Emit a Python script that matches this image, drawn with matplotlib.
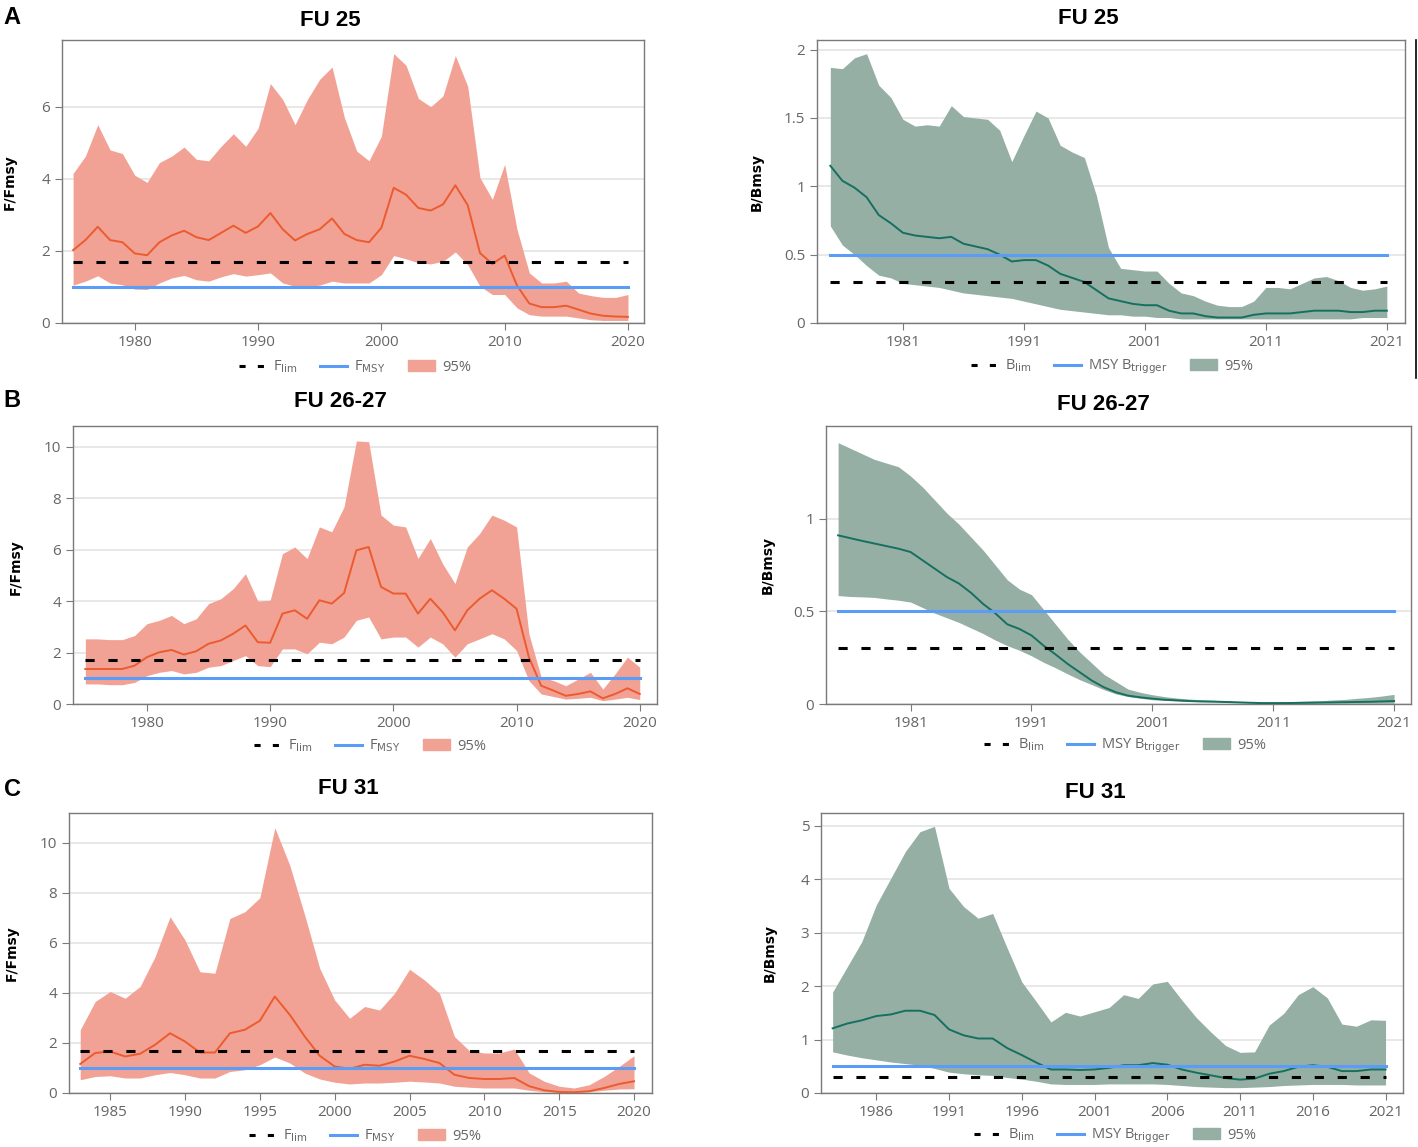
import matplotlib
matplotlib.use("Agg")
import matplotlib.pyplot as plt
from matplotlib.lines import Line2D
from matplotlib.patches import Patch

# ---- data ----
yrs_a = list(range(1975, 2021))
f25_hi = [4.15, 4.63, 5.5, 4.8, 4.7, 4.1, 3.9, 4.45, 4.63, 4.88, 4.54, 4.5, 4.9, 5.25, 4.9, 5.4,
          6.64, 6.2, 5.5, 6.2, 6.76, 7.1, 5.7, 4.77, 4.5, 5.18, 7.47, 7.15, 6.23, 6.0, 6.3, 7.42,
          6.57, 4.03, 3.43, 4.4, 2.6, 1.39, 1.11, 1.11, 1.16, 0.83, 0.76, 0.71, 0.71, 0.79]
f25_med = [2.02, 2.3, 2.67, 2.3, 2.24, 1.93, 1.88, 2.24, 2.43, 2.56, 2.38, 2.3, 2.5, 2.7, 2.5, 2.68,
           3.05, 2.6, 2.29, 2.47, 2.6, 2.9, 2.47, 2.3, 2.24, 2.64, 3.75, 3.56, 3.19, 3.12, 3.29, 3.82,
           3.27, 1.94, 1.64, 1.87, 1.04, 0.54, 0.44, 0.44, 0.48, 0.37, 0.26, 0.2, 0.18, 0.17]
f25_lo = [1.05, 1.16, 1.31, 1.11, 1.06, 0.94, 0.93, 1.11, 1.25, 1.32, 1.2, 1.16, 1.28, 1.37, 1.3, 1.34,
          1.39, 1.11, 1.02, 1.02, 1.05, 1.16, 1.11, 1.11, 1.11, 1.34, 1.87, 1.78, 1.67, 1.64, 1.71, 1.97,
          1.62, 1.02, 0.79, 0.79, 0.42, 0.23, 0.19, 0.19, 0.19, 0.14, 0.09, 0.07, 0.07, 0.07]

yrs_b = list(range(1975, 2022))
b25_hi = [1.87, 1.86, 1.94, 1.97, 1.74, 1.65, 1.49, 1.44, 1.45, 1.44, 1.59, 1.51, 1.5, 1.49, 1.41, 1.18,
          1.37, 1.55, 1.5, 1.3, 1.25, 1.21, 0.93, 0.55, 0.4, 0.39, 0.38, 0.38, 0.29, 0.22, 0.2, 0.16,
          0.13, 0.12, 0.12, 0.16, 0.26, 0.26, 0.25, 0.29, 0.33, 0.34, 0.31, 0.26, 0.24, 0.25, 0.27]
b25_med = [1.15, 1.04, 0.99, 0.92, 0.79, 0.73, 0.66, 0.64, 0.63, 0.62, 0.63, 0.58, 0.56, 0.54, 0.5, 0.45,
           0.46, 0.46, 0.42, 0.36, 0.33, 0.3, 0.24, 0.18, 0.16, 0.14, 0.13, 0.13, 0.09, 0.07, 0.07, 0.05,
           0.04, 0.04, 0.04, 0.06, 0.07, 0.07, 0.07, 0.08, 0.09, 0.09, 0.09, 0.08, 0.08, 0.09, 0.09]
b25_lo = [0.71, 0.57, 0.5, 0.42, 0.35, 0.33, 0.29, 0.28, 0.27, 0.26, 0.24, 0.22, 0.21, 0.2, 0.19, 0.18,
          0.16, 0.14, 0.12, 0.1, 0.09, 0.08, 0.07, 0.06, 0.06, 0.05, 0.05, 0.04, 0.04, 0.03, 0.03, 0.03,
          0.03, 0.03, 0.03, 0.03, 0.03, 0.03, 0.03, 0.03, 0.03, 0.03, 0.03, 0.03, 0.04, 0.04, 0.04]

f2627_hi = [2.53, 2.53, 2.5, 2.5, 2.66, 3.12, 3.25, 3.44, 3.12, 3.31, 3.9, 4.09, 4.48, 5.06, 4.0, 4.03,
            5.84, 6.1, 5.65, 6.88, 6.69, 7.66, 10.22, 10.19, 7.34, 6.95, 6.88, 5.65, 6.43, 5.45, 4.68, 6.1,
            6.62, 7.34, 7.14, 6.88, 2.73, 1.04, 0.91, 0.71, 0.97, 1.23, 0.58, 1.17, 1.82, 1.43]
f2627_med = [1.36, 1.36, 1.36, 1.36, 1.49, 1.82, 2.01, 2.1, 1.92, 2.05, 2.34, 2.47, 2.73, 3.05, 2.4, 2.38,
             3.51, 3.64, 3.31, 4.03, 3.9, 4.31, 5.97, 6.1, 4.55, 4.29, 4.29, 3.51, 4.09, 3.57, 2.86, 3.64,
             4.09, 4.42, 4.09, 3.7, 1.82, 0.71, 0.52, 0.32, 0.39, 0.49, 0.22, 0.39, 0.61, 0.39]
f2627_lo = [0.78, 0.78, 0.75, 0.75, 0.84, 1.1, 1.23, 1.3, 1.17, 1.23, 1.43, 1.49, 1.69, 1.88, 1.49, 1.45,
            2.14, 2.14, 1.95, 2.4, 2.34, 2.6, 3.25, 3.38, 2.53, 2.6, 2.6, 2.21, 2.6, 2.34, 1.82, 2.34,
            2.53, 2.73, 2.53, 2.08, 0.91, 0.39, 0.29, 0.19, 0.22, 0.26, 0.13, 0.19, 0.26, 0.17]

b2627_hi = [1.41, 1.38, 1.35, 1.32, 1.3, 1.28, 1.23, 1.17, 1.1, 1.03, 0.97, 0.9, 0.83, 0.75, 0.67, 0.62,
            0.59, 0.51, 0.43, 0.35, 0.28, 0.22, 0.16, 0.12, 0.08, 0.063, 0.05, 0.04, 0.032, 0.027, 0.023, 0.02,
            0.018, 0.014, 0.013, 0.011, 0.011, 0.013, 0.014, 0.016, 0.018, 0.022, 0.025, 0.031, 0.036, 0.043, 0.052]
b2627_med = [0.91, 0.895, 0.88, 0.866, 0.852, 0.838, 0.82, 0.775, 0.73, 0.685, 0.65, 0.6, 0.54, 0.49, 0.43, 0.405,
             0.37, 0.315, 0.267, 0.216, 0.171, 0.126, 0.09, 0.063, 0.045, 0.036, 0.029, 0.023, 0.02, 0.016, 0.014, 0.013,
             0.011, 0.009, 0.007, 0.005, 0.005, 0.005, 0.006, 0.007, 0.008, 0.009, 0.01, 0.011, 0.012, 0.014, 0.016]
b2627_lo = [0.585, 0.58, 0.578, 0.575, 0.567, 0.56, 0.55, 0.52, 0.49, 0.465, 0.44, 0.41, 0.38, 0.345, 0.315, 0.29,
            0.26, 0.225, 0.195, 0.162, 0.131, 0.104, 0.077, 0.054, 0.04, 0.031, 0.023, 0.02, 0.016, 0.014, 0.012, 0.011,
            0.009, 0.008, 0.006, 0.004, 0.003, 0.003, 0.003, 0.003, 0.004, 0.004, 0.004, 0.004, 0.004, 0.004, 0.004]

yrs_c = list(range(1983, 2021))
f31_hi = [2.53, 3.66, 4.06, 3.79, 4.26, 5.45, 7.05, 6.12, 4.85, 4.79, 6.98, 7.25, 7.81, 10.61, 9.11, 7.11,
          4.99, 3.72, 2.99, 3.46, 3.32, 3.99, 4.95, 4.52, 3.99, 2.26, 1.69, 1.6, 1.6, 1.76, 0.8, 0.47,
          0.27, 0.2, 0.33, 0.66, 1.06, 1.49]
f31_med = [1.16, 1.6, 1.66, 1.46, 1.57, 1.93, 2.39, 2.06, 1.62, 1.62, 2.39, 2.53, 2.89, 3.86, 3.13, 2.26,
           1.49, 1.06, 0.97, 1.13, 1.09, 1.26, 1.49, 1.36, 1.2, 0.73, 0.6, 0.56, 0.56, 0.6, 0.27, 0.11,
           0.04, 0.03, 0.07, 0.2, 0.36, 0.47]
f31_lo = [0.53, 0.66, 0.69, 0.6, 0.6, 0.73, 0.82, 0.73, 0.6, 0.6, 0.86, 0.93, 1.13, 1.44, 1.2, 0.8,
          0.56, 0.43, 0.36, 0.4, 0.4, 0.43, 0.47, 0.44, 0.4, 0.27, 0.23, 0.2, 0.2, 0.2, 0.11, 0.05,
          0.03, 0.03, 0.05, 0.11, 0.16, 0.17]

yrs_d = list(range(1983, 2022))
b31_hi = [1.89, 2.36, 2.83, 3.52, 4.02, 4.52, 4.89, 4.99, 3.83, 3.49, 3.27, 3.36, 2.71, 2.08, 1.71, 1.33,
          1.51, 1.44, 1.52, 1.6, 1.84, 1.77, 2.04, 2.09, 1.74, 1.41, 1.14, 0.89, 0.76, 0.77, 1.27, 1.49,
          1.84, 1.99, 1.78, 1.29, 1.25, 1.37, 1.36]
b31_med = [1.21, 1.3, 1.36, 1.44, 1.47, 1.54, 1.54, 1.46, 1.19, 1.08, 1.02, 1.02, 0.84, 0.71, 0.57, 0.44,
           0.44, 0.43, 0.44, 0.47, 0.52, 0.52, 0.56, 0.53, 0.44, 0.38, 0.33, 0.28, 0.25, 0.27, 0.36, 0.41,
           0.49, 0.52, 0.49, 0.41, 0.41, 0.44, 0.44]
b31_lo = [0.77, 0.71, 0.66, 0.62, 0.58, 0.55, 0.52, 0.46, 0.39, 0.36, 0.34, 0.33, 0.29, 0.26, 0.22, 0.17,
          0.16, 0.16, 0.16, 0.17, 0.17, 0.17, 0.17, 0.16, 0.14, 0.12, 0.11, 0.1, 0.1, 0.11, 0.12, 0.14,
          0.15, 0.16, 0.16, 0.16, 0.15, 0.15, 0.15]

f_lim, f_msy = 1.7, 1.0
b_lim, b_trig = 0.3, 0.5

W, H = 1418, 1147
fig = plt.figure(figsize=(W / 100, H / 100), dpi=100)

SALMON, ORANGE = "#F2A294", "#EC5B2F"
GREEN_FILL, GREEN = "#95AFA5", "#16705F"
BLUE = "#5B9CF6"
GREY = "#666666"


def add_ax(l, t, r, b):
    return fig.add_axes([l / W, 1 - b / H, (r - l) / W, (b - t) / H])


def panel(box, yrs, lo, med, hi, lim, ref, xlim, ylim, xticks, yticks, ytl, kind):
    ax = add_ax(*box)
    fill = SALMON if kind == "F" else GREEN_FILL
    line = ORANGE if kind == "F" else GREEN
    ax.fill_between(yrs, lo, hi, color=fill, lw=0, zorder=2)
    ax.plot(yrs, med, color=line, lw=1.4, zorder=3)
    ax.plot([yrs[0], yrs[-1]], [ref, ref], color=BLUE, lw=2.2, zorder=4)
    ax.plot([yrs[0], yrs[-1]], [lim, lim], color="black", lw=2.2,
            dashes=(3, 4.5), zorder=5)
    ax.set_xlim(*xlim)
    ax.set_ylim(*ylim)
    ax.set_xticks(xticks)
    ax.set_xticklabels([str(x) for x in xticks])
    ax.set_yticks(yticks)
    ax.set_yticklabels(ytl)
    ax.grid(axis="y", color="#e4e4e4", lw=1.2, zorder=0)
    for s in ax.spines.values():
        s.set_color("#7a7a7a")
        s.set_linewidth(1.0)
    ax.tick_params(colors="#7a7a7a", labelcolor=GREY, labelsize=11, length=5)
    for lab in ax.get_xticklabels() + ax.get_yticklabels():
        lab.set_fontfamily("Open Sans")
    return ax


def legend(x, y, kind):
    if kind == "F":
        names = [r"F$_{\mathrm{lim}}$", r"F$_{\mathrm{MSY}}$", "95%"]
        fill = SALMON
    else:
        names = [r"B$_{\mathrm{lim}}$", r"MSY B$_{\mathrm{trigger}}$", "95%"]
        fill = GREEN_FILL
    handles = [Line2D([], [], color="black", lw=2.2, dashes=(2, 4)),
               Line2D([], [], color=BLUE, lw=2.2),
               Patch(color=fill)]
    leg = fig.legend(handles, names, loc="center", bbox_to_anchor=(x / W, 1 - y / H),
                     ncol=3, frameon=False, handlelength=1.8, columnspacing=1.6,
                     handletextpad=0.5, prop={"family": "Open Sans", "size": 10.5})
    for t in leg.get_texts():
        t.set_color(GREY)


def title(x, y, s):
    fig.text(x / W, 1 - y / H, s, ha="center", va="center", fontsize=16,
             fontweight="bold", family=["Liberation Sans Narrow", "Liberation Sans"])


def ylab(x, y, s):
    fig.text(x / W, 1 - y / H, s, ha="center", va="center", rotation=90,
             fontsize=10, fontweight="bold", family="DejaVu Sans")


# A
panel((62, 40, 644, 323), yrs_a, f25_lo, f25_med, f25_hi, f_lim, f_msy,
      (1974.1, 2021.3), (0, 7.85), [1980, 1990, 2000, 2010, 2020],
      [0, 2, 4, 6], ["0", "2", "4", "6"], "F")
panel((817, 40, 1405, 323), yrs_b, b25_lo, b25_med, b25_hi, b_lim, b_trig,
      (1973.9, 2022.5), (0, 2.07), [1981, 1991, 2001, 2011, 2021],
      [0, 0.5, 1, 1.5, 2], ["0", "0.5", "1", "1.5", "2"], "B")
# B
panel((73, 426, 657, 704), yrs_a, f2627_lo, f2627_med, f2627_hi, f_lim, f_msy,
      (1974.0, 2021.4), (0, 10.8), [1980, 1990, 2000, 2010, 2020],
      [0, 2, 4, 6, 8, 10], ["0", "2", "4", "6", "8", "10"], "F")
panel((826, 426, 1411, 704), yrs_b, b2627_lo, b2627_med, b2627_hi, b_lim, b_trig,
      (1974.0, 2022.4), (0, 1.5), [1981, 1991, 2001, 2011, 2021],
      [0, 0.5, 1], ["0", "0.5", "1"], "B")
# C
panel((69, 813, 652, 1093), yrs_c, f31_lo, f31_med, f31_hi, f_lim, f_msy,
      (1982.25, 2021.2), (0, 11.2), [1985, 1990, 1995, 2000, 2005, 2010, 2015, 2020],
      [0, 2, 4, 6, 8, 10], ["0", "2", "4", "6", "8", "10"], "F")
panel((821, 813, 1403, 1093), yrs_d, b31_lo, b31_med, b31_hi, b_lim, b_trig,
      (1982.2, 2022.2), (0, 5.24), [1986, 1991, 1996, 2001, 2006, 2011, 2016, 2021],
      [0, 1, 2, 3, 4, 5], ["0", "1", "2", "3", "4", "5"], "B")

title(330, 20, "FU 25")
title(1088, 18, "FU 25")
title(340, 402, "FU 26-27")
title(1103, 404, "FU 26-27")
title(348, 789, "FU 31")
title(1095, 792, "FU 31")

for letter, y in [("A", 18), ("B", 400), ("C", 789)]:
    fig.text(12 / W, 1 - y / H, letter, ha="center", va="center", fontsize=17,
             fontweight="bold", family="Liberation Sans")

ylab(10, 182, "F/Fmsy")
ylab(757, 182, "B/Bmsy")
ylab(16, 567, "F/Fmsy")
ylab(768, 565, "B/Bmsy")
ylab(12, 953, "F/Fmsy")
ylab(770, 953, "B/Bmsy")

legend(355, 367, "F")
legend(1112, 367, "B")
legend(370, 746, "F")
legend(1125, 746, "B")
legend(365, 1136, "F")
legend(1115, 1136, "B")

# thin black edge line at the right of the top-right panel
fig.add_artist(Line2D([1416 / W, 1416 / W], [1 - 40 / H, 1 - 378 / H],
                      color="black", lw=1.2))

fig.savefig("out.png", dpi=100)
